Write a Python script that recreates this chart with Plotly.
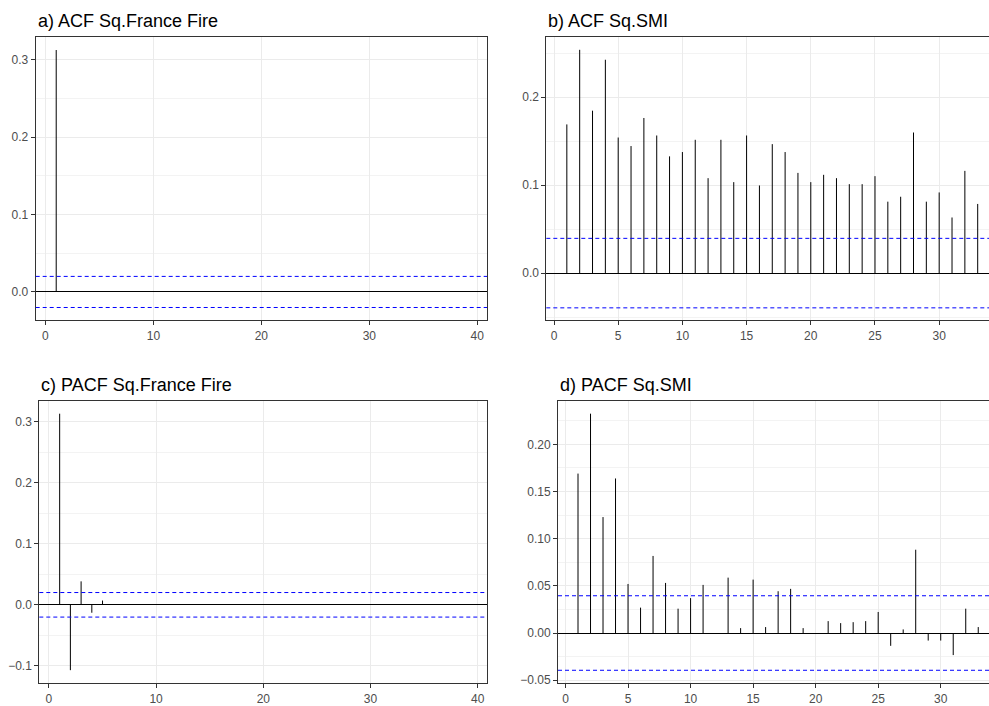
import plotly.graph_objects as go

# ---- data ----
fire_acf_lags = [1]
fire_acf = [0.3128]
fire_pacf_lags = [1, 2, 3, 4, 5]
fire_pacf = [0.3129, -0.107, 0.0384, -0.013, 0.007]
fire_ci = 0.0201

smi_lags = list(range(1, 34))
smi_acf = [0.169, 0.2538, 0.1846, 0.2425, 0.1541, 0.1444, 0.1763, 0.1564, 0.1327, 0.1376,
           0.1515, 0.1079, 0.1515, 0.1034, 0.1564, 0.0996, 0.1466, 0.1376, 0.1139, 0.1034,
           0.1117, 0.1079, 0.1011, 0.1011, 0.1102, 0.0812, 0.0868, 0.1598, 0.0812, 0.0917,
           0.0632, 0.1162, 0.0786]
smi_pacf = [0.169, 0.2325, 0.1229, 0.1638, 0.052, 0.0269, 0.0817, 0.0531, 0.0258, 0.037,
            0.051, 0.0, 0.0587, 0.0052, 0.0566, 0.0063, 0.0443, 0.0468, 0.0052, 0.0,
            0.0126, 0.0105, 0.0115, 0.0126, 0.0223, -0.0136, 0.0038, 0.0883, -0.008, -0.008,
            -0.0234, 0.0258, 0.0063]
smi_ci = 0.0395

titles = ["a) ACF Sq.France Fire", "b) ACF Sq.SMI", "c) PACF Sq.France Fire", "d) PACF Sq.SMI"]

W, H = 989, 706
FONT = "Liberation Sans, Arial, sans-serif"

panels = [
    # lags, vals, ci, xdomain px, ydomain px (top,bottom), xrange, yrange, xdtick, ydtick, fmt, mirror_right
    (fire_acf_lags, fire_acf, fire_ci, (35.7, 487), (37.7, 322), [-0.9, 40.9], [-0.0365, 0.329], 10, 0.1, ".1f", True),
    (smi_lags, smi_acf, smi_ci, (546.3, 989), (37.7, 322), [-0.6, 33.88], [-0.0535, 0.2678], 5, 0.1, ".1f", False),
    (fire_pacf_lags, fire_pacf, fire_ci, (39.3, 487.3), (403.7, 687), [-0.9, 40.9], [-0.1282, 0.333], 10, 0.1, ".1f", True),
    (smi_lags, smi_pacf, smi_ci, (558, 989), (403.7, 687), [-0.6, 33.86], [-0.0531, 0.2455], 5, 0.05, ".2f", False),
]

fig = go.Figure()
layout = dict(width=W, height=H, autosize=False, margin=dict(l=0, r=0, t=0, b=0),
              paper_bgcolor="white", plot_bgcolor="white", showlegend=False,
              font=dict(family=FONT), shapes=[], annotations=[])

for i, (lags, vals, ci, xd, yd, xr, yr, xdt, ydt, fmt, mir) in enumerate(panels):
    n = "" if i == 0 else str(i + 1)
    xs, ys = [], []
    for l, v in zip(lags, vals):
        xs += [l, l, None]
        ys += [0, v, None]
    fig.add_trace(go.Scatter(x=xs, y=ys, mode="lines", line=dict(color="black", width=1),
                             xaxis="x" + n, yaxis="y" + n, hoverinfo="skip"))
    for c in (ci, -ci):
        layout["shapes"].append(dict(type="line", xref="x%s domain" % n, yref="y" + n,
                                     x0=0, x1=1, y0=c, y1=c,
                                     line=dict(color="blue", width=1, dash="4px,3px")))
    axcommon = dict(showline=True, linecolor="#333333", linewidth=1, ticks="outside", ticklen=4,
                    tickcolor="#333333", tickwidth=1, tickfont=dict(family=FONT, size=12, color="#4D4D4D"),
                    gridcolor="#EBEBEB", gridwidth=1)
    layout["xaxis" + n] = dict(axcommon, domain=[xd[0] / W, xd[1] / W], range=xr, dtick=xdt, tick0=0,
                               mirror=True, zeroline=False, anchor="y" + n)
    layout["yaxis" + n] = dict(axcommon, domain=[1 - yd[1] / H, 1 - yd[0] / H], range=yr, dtick=ydt, tick0=0,
                               tickformat=fmt, mirror=mir, zeroline=True, zerolinecolor="black",
                               zerolinewidth=1, anchor="x" + n,
                               minor=dict(showgrid=True, dtick=ydt / 2, tick0=0, gridcolor="#F3F3F3",
                                          gridwidth=1, ticks=""))
    layout["annotations"].append(dict(text=titles[i], xref="paper", yref="paper",
                                      x=xd[0] / W, y=1 - (yd[0] - 17) / H, xanchor="left", yanchor="middle",
                                      showarrow=False, font=dict(family=FONT, size=18, color="black")))

fig.update_layout(**layout)
fig.write_html("out.html")
